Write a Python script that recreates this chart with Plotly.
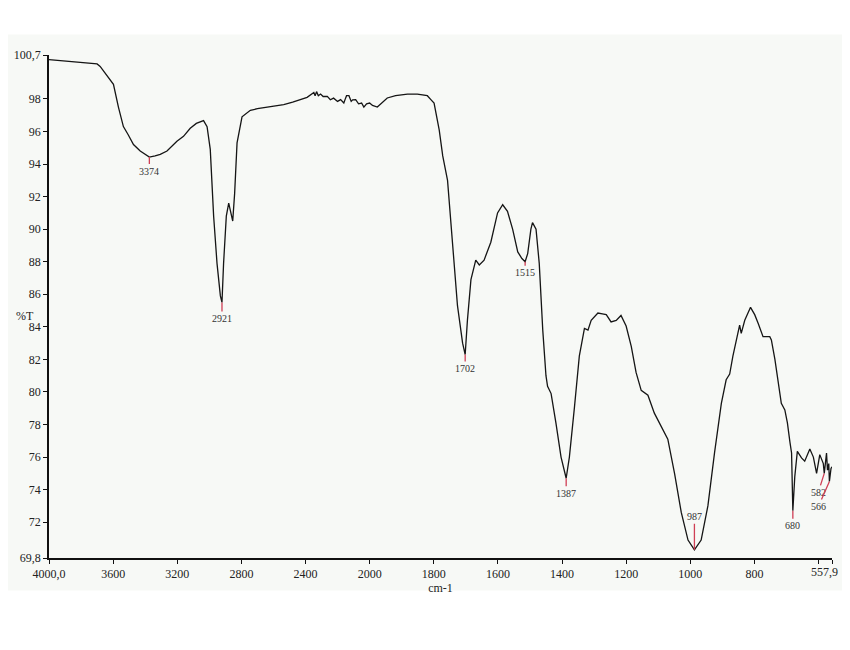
import plotly.graph_objects as go

wavenumber = [4000, 3931, 3869, 3806, 3744, 3700, 3681, 3650, 3619, 3598, 3567, 3536, 3506, 3473,
              3431, 3389, 3374, 3338, 3306, 3264, 3202, 3161, 3119, 3081, 3056, 3036, 3014, 2994,
              2973, 2952, 2931, 2921, 2911, 2894, 2879, 2864, 2854, 2842, 2827, 2796, 2744, 2700,
              2639, 2590, 2536, 2480, 2431, 2390, 2348, 2340, 2331, 2320, 2306, 2290, 2264, 2245,
              2225, 2200, 2181, 2161, 2150, 2144, 2129, 2115, 2106, 2087, 2069, 2050, 2036, 2019,
              2000, 1991, 1976, 1966, 1945, 1919, 1903, 1882, 1851, 1830, 1820, 1809, 1799, 1783,
              1772, 1757, 1747, 1737, 1726, 1710, 1702, 1695, 1684, 1669, 1658, 1643, 1622, 1601,
              1585, 1570, 1554, 1538, 1525, 1515, 1507, 1497, 1492, 1481, 1471, 1460, 1450, 1445,
              1434, 1419, 1403, 1387, 1377, 1361, 1346, 1330, 1319, 1309, 1288, 1274, 1262, 1247,
              1231, 1216, 1200, 1184, 1169, 1153, 1132, 1112, 1085, 1070, 1049, 1028, 1007, 987,
              966, 945, 924, 903, 888, 877, 867, 856, 846, 841, 830, 812, 799, 788, 773, 752, 747,
              736, 726, 716, 705, 697, 689, 684, 680, 674, 666, 653, 643, 627, 616, 606, 596, 585,
              582, 575, 572, 568, 566, 561, 557.9]
transmittance = [100.41, 100.35, 100.32, 100.26, 100.22, 100.15, 100.0, 99.6, 99.2, 98.9, 97.5, 96.3,
                 95.8, 95.2, 94.8, 94.5, 94.43, 94.5, 94.6, 94.8, 95.4, 95.7, 96.2, 96.5, 96.6,
                 96.67, 96.3, 94.9, 90.8, 87.9, 85.9, 85.5, 87.9, 90.8, 91.6, 91.0, 90.5, 92.2, 95.3,
                 96.9, 97.3, 97.4, 97.5, 97.55, 97.65, 97.8, 97.96, 98.1, 98.4, 98.2, 98.45, 98.2,
                 98.3, 98.15, 98.16, 97.95, 98.05, 97.85, 97.96, 97.75, 98.05, 98.2, 98.2, 97.85,
                 97.95, 97.96, 97.7, 97.75, 97.5, 97.7, 97.75, 97.6, 97.5, 97.7, 98.06, 98.2, 98.26,
                 98.3, 98.3, 98.26, 98.2, 97.96, 97.75, 96.1, 94.5, 93.0, 90.6, 87.7, 85.3, 83.0,
                 82.3, 84.4, 86.9, 88.1, 87.8, 88.1, 89.2, 91.0, 91.5, 91.1, 90.0, 88.6, 88.2, 88.0,
                 88.5, 90.0, 90.4, 90.0, 87.9, 83.8, 81.0, 80.35, 79.9, 78.1, 76.0, 74.7, 76.0, 79.1,
                 82.2, 83.9, 83.8, 84.4, 84.85, 84.8, 84.75, 84.3, 84.4, 84.7, 84.05, 82.8, 81.2,
                 80.1, 79.8, 78.7, 77.7, 77.1, 75.0, 72.6, 70.9, 70.3, 70.9, 73.0, 76.3, 79.3, 80.75,
                 81.1, 82.2, 83.2, 84.1, 83.6, 84.4, 85.2, 84.75, 84.2, 83.4, 83.4, 83.2, 82.0, 80.55,
                 79.3, 78.9, 78.1, 76.9, 76.25, 72.7, 74.8, 76.35, 75.95, 75.75, 76.5, 76.0, 75.0,
                 76.15, 75.6, 75.0, 76.25, 75.2, 75.6, 74.5, 75.3, 75.4]

peak_wn = [3374, 2921, 1702, 1515, 1387, 987, 680, 582, 566]
peak_t = [94.43, 85.5, 82.3, 88.0, 74.7, 70.3, 72.7, 75.0, 74.5]
peak_offset = [(0, 14), (0, 16), (0, 14), (0, 11), (0, 15), (0, -33), (0, 15), (-6, 19), (-11, 25)]

x_tickvals = [4000, 3600, 3200, 2800, 2400, 2000, 1800, 1600, 1400, 1200, 1000, 800, 600, 557.9]
x_ticktext = ["4000,0", "3600", "3200", "2800", "2400", "2000", "1800", "1600", "1400",
              "1200", "1000", "800", "", ""]
x_fin, x_fin_texte = 557.9, "557,9"
y_tickvals = [69.8, 72, 74, 76, 78, 80, 82, 84, 86, 88, 90, 92, 94, 96, 98, 100.7]
y_ticktext = ["69,8", "72", "74", "76", "78", "80", "82", "84", "86", "88", "90", "92", "94",
              "96", "98", "100,7"]


def comprime(wn):
    # l'echelle est divisee par deux au-dessus de 2000 cm-1
    return wn if wn <= 2000 else 2000 + (wn - 2000) / 2


serif = "Liberation Serif"
rouge = "#cf3f55"

fig = go.Figure()
fig.add_trace(go.Scatter(x=[comprime(w) for w in wavenumber], y=transmittance, mode="lines",
                         line=dict(color="#151515", width=1.3), hoverinfo="skip"))

for wn, t, (dx, dy) in zip(peak_wn, peak_t, peak_offset):
    fig.add_annotation(x=comprime(wn), y=t, text=str(wn), showarrow=True, arrowhead=0,
                       arrowwidth=1.3, arrowcolor=rouge, ax=dx, ay=dy,
                       font=dict(family=serif, size=10, color="#333"))

fig.add_annotation(x=-0.045, y=0.482, xref="paper", yref="paper", text="%T", showarrow=False,
                   font=dict(family=serif, size=12, color="#222"))

# dernier label de l'axe x, cale a droite pour ne pas etre coupe
fig.add_annotation(x=comprime(x_fin), y=0, yref="paper", text=x_fin_texte, showarrow=False,
                   xanchor="right", yanchor="top", xshift=8, yshift=-5,
                   font=dict(family=serif, size=12, color="#222"))

# fond du scan
fig.add_shape(type="rect", xref="paper", yref="paper", x0=-0.063, x1=1.024, y0=-0.0646, y1=1.041,
              fillcolor="#f7f9f6", line_width=0, layer="below")

# la page a une marge de 8 px : figure un peu plus petite (pas de barre de defilement)
fig.update_layout(
    width=834, height=610,
    margin=dict(l=41, r=10, t=47, b=60, autoexpand=False),
    paper_bgcolor="white", plot_bgcolor="rgba(0,0,0,0)",
    showlegend=False,
    xaxis=dict(range=[comprime(4000), 557.9], tickvals=[comprime(v) for v in x_tickvals],
               ticktext=x_ticktext, ticks="outside", ticklen=4, tickcolor="#111",
               showline=True, linecolor="#111", linewidth=1.5, showgrid=False, zeroline=False,
               automargin=False, ticklabeloverflow="allow",
               tickfont=dict(family=serif, size=12, color="#222"),
               title=dict(text="cm-1", standoff=0, font=dict(family=serif, size=12, color="#222"))),
    yaxis=dict(range=[69.8, 100.7], tickvals=y_tickvals, ticktext=y_ticktext, ticks="outside",
               ticklen=4, tickcolor="#111", showline=True, linecolor="#111", linewidth=1.5,
               showgrid=False, zeroline=False, automargin=False,
               tickfont=dict(family=serif, size=12, color="#222")),
)

fig.write_html("out.html")
